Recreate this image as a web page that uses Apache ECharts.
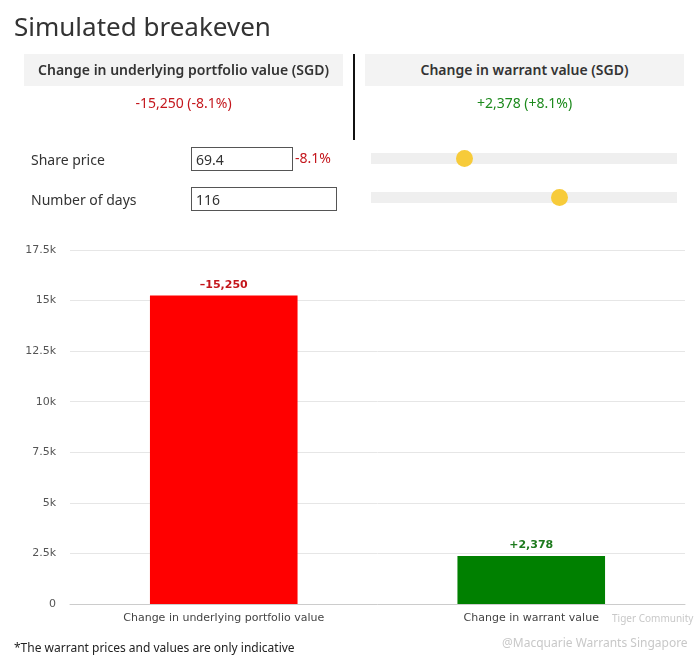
<!DOCTYPE html>
<html lang="en">
<head>
    <meta charset="UTF-8">
    <title>Simulated breakeven</title>
    <script src="https://cdn.jsdelivr.net/npm/echarts@6.0.0/dist/echarts.min.js"></script>
    <style>
        body {
            margin: 0;
            width: 697px;
            height: 658px;
            background: #fff;
            font-family: "Noto Sans", "Open Sans", sans-serif;
            color: #333;
            position: relative;
            overflow: hidden;
        }
        #chart {
            position: absolute;
            left: 0;
            top: 0;
            width: 697px;
            height: 658px;
        }
        .abs { position: absolute; white-space: nowrap; }
        .title {
            left: 14px;
            top: 8px;
            font-size: 26px;
            color: #333;
        }
        .panel-head {
            top: 54px;
            height: 32px;
            line-height: 32px;
            width: 319px;
            background: #f3f3f3;
            text-align: center;
            font-size: 14px;
            font-weight: 600;
            color: #333;
        }
        .panel-val {
            top: 93px;
            width: 319px;
            text-align: center;
            font-size: 14px;
        }
        .divider {
            left: 353px;
            top: 54px;
            width: 2px;
            height: 86px;
            background: #111;
        }
        .lbl { font-size: 14px; color: #333; }
        .inp {
            height: 24px;
            line-height: 23px;
            border: 1px solid #555;
            padding-left: 4px;
            font-size: 14px;
            color: #333;
            box-sizing: border-box;
        }
        .track {
            left: 371px;
            width: 306px;
            height: 11px;
            background: #efefef;
        }
        .knob {
            width: 17px;
            height: 17px;
            border-radius: 50%;
            background: #f7cb3a;
        }
        .note { left: 14px; top: 639px; font-size: 12px; color: #222; }
        .wm { color: #c8c8c8; }
    </style>
</head>
<body>
    <div id="chart"></div>
    <div class="abs title">Simulated breakeven</div>

    <div class="abs panel-head" style="left:24px">Change in underlying portfolio value (SGD)</div>
    <div class="abs panel-val" style="left:24px;color:#c4161c">-15,250 (-8.1%)</div>
    <div class="abs divider"></div>
    <div class="abs panel-head" style="left:365px">Change in warrant value (SGD)</div>
    <div class="abs panel-val" style="left:365px;color:#1d8a1d">+2,378 (+8.1%)</div>

    <div class="abs lbl" style="left:31px;top:150px">Share price</div>
    <div class="abs inp" style="left:191px;top:147px;width:102px">69.4</div>
    <div class="abs" style="left:295px;top:148px;font-size:14px;color:#c4161c">-8.1%</div>
    <div class="abs lbl" style="left:31px;top:190px">Number of days</div>
    <div class="abs inp" style="left:191px;top:187px;width:146px">116</div>

    <div class="abs track" style="top:153px"></div>
    <div class="abs knob" style="left:456px;top:150px"></div>
    <div class="abs track" style="top:192px"></div>
    <div class="abs knob" style="left:551px;top:189px"></div>

    <div class="abs note">*The warrant prices and values are only indicative</div>
    <div class="abs wm" style="left:612px;top:611px;font-size:10px">Tiger Community</div>
    <div class="abs wm" style="left:502px;top:634px;font-size:12px">@Macquarie Warrants Singapore</div>

    <script>
        var categories = ['Change in underlying portfolio value', 'Change in warrant value'];
        var values = [15250, 2378];
        var valueLabels = ['\u201315,250', '+2,378'];
        var barColors = ['#ff0000', '#008000'];
        var labelColors = ['#c4161c', '#1d7a1d'];
        var yTicks = ['0', '2.5k', '5k', '7.5k', '10k', '12.5k', '15k', '17.5k'];

        var chart = echarts.init(document.getElementById('chart'));

        chart.setOption({
            animation: false,
            grid: {
                left: 70,
                right: 12,
                top: 250,
                bottom: 54
            },
            xAxis: {
                type: 'category',
                data: categories,
                axisLine: { lineStyle: { color: '#ccc' } },
                axisTick: { show: false },
                axisLabel: {
                    color: '#444',
                    fontSize: 11,
                    fontFamily: 'DejaVu Sans',
                    margin: 9
                }
            },
            yAxis: {
                type: 'value',
                min: 0,
                max: 17500,
                interval: 2500,
                axisLine: { show: false },
                axisTick: { show: false },
                splitLine: { lineStyle: { color: '#e6e6e6' } },
                axisLabel: {
                    color: '#555',
                    fontSize: 11,
                    fontFamily: 'DejaVu Sans',
                    margin: 14,
                    formatter: function (v) {
                        return yTicks[Math.round(v / 2500)];
                    }
                }
            },
            series: [{
                type: 'bar',
                barWidth: '48%',
                data: values.map(function (v, i) {
                    return {
                        value: v,
                        itemStyle: { color: barColors[i] },
                        label: {
                            show: true,
                            position: 'top',
                            distance: 5,
                            color: labelColors[i],
                            fontWeight: 'bold',
                            fontSize: 11,
                            fontFamily: 'DejaVu Sans',
                            formatter: valueLabels[i]
                        }
                    };
                })
            }]
        });
    </script>
</body>
</html>
